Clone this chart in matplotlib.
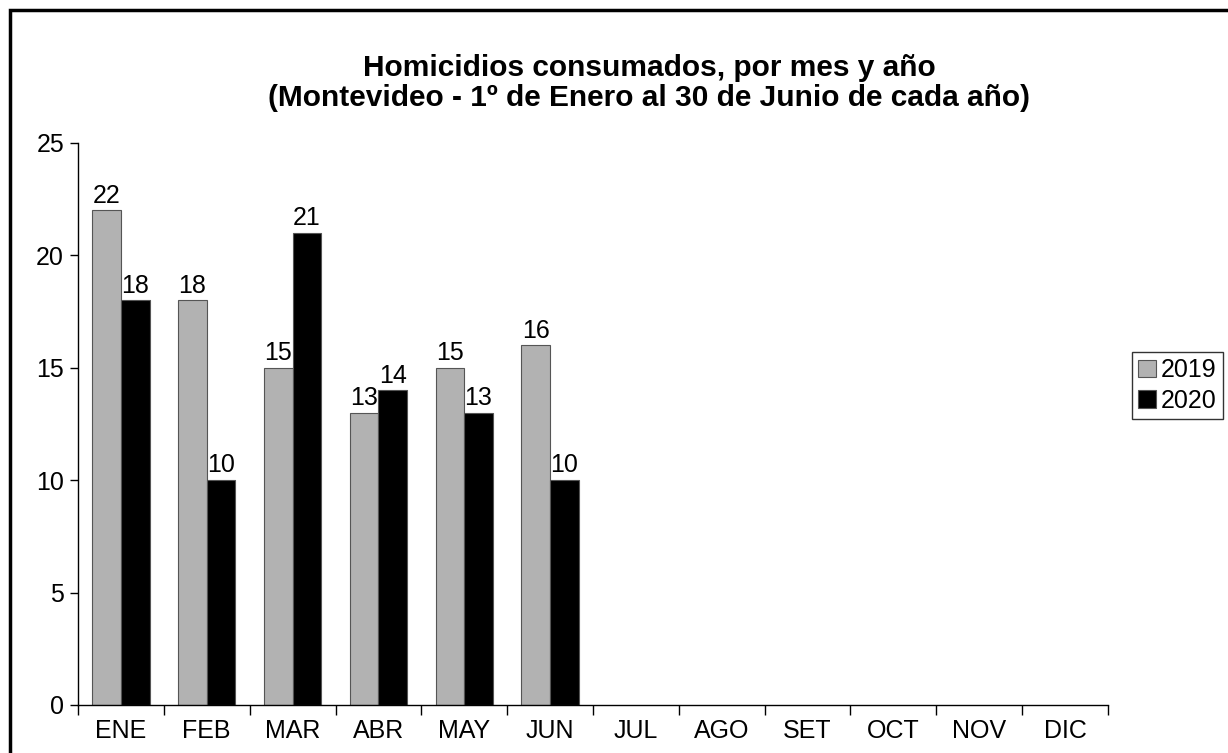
import numpy as np
import matplotlib
matplotlib.use("Agg")
import matplotlib.pyplot as plt
from matplotlib.patches import Rectangle

plt.rcParams['font.family'] = ['Liberation Sans', 'DejaVu Sans']

# data
months = ["ENE", "FEB", "MAR", "ABR", "MAY", "JUN",
          "JUL", "AGO", "SET", "OCT", "NOV", "DIC"]
values_2019 = [22, 18, 15, 13, 15, 16]
values_2020 = [18, 10, 21, 14, 13, 10]
y_ticks = [0, 5, 10, 15, 20, 25]

fig = plt.figure(figsize=(12.28, 7.53), dpi=100)
ax = fig.add_axes([78 / 1228, 1 - 705 / 753, 1030 / 1228, (705 - 143) / 753])

# outer frame (runs off the right and bottom edge)
fig.patches.append(Rectangle((10 / 1228, -0.1), 1.2, 1.1 - 10 / 753,
                             transform=fig.transFigure, fill=False,
                             ec='black', lw=2.5, clip_on=False))

w = 1 / 3
x19 = np.arange(len(values_2019)) - w / 2
x20 = np.arange(len(values_2020)) + w / 2
b1 = ax.bar(x19, values_2019, width=w, color='#b2b2b2', edgecolor='#555555',
            linewidth=0.8, label='2019')
b2 = ax.bar(x20, values_2020, width=w, color='black', edgecolor='#555555',
            linewidth=0.8, label='2020')

for bars in (b1, b2):
    ax.bar_label(bars, padding=2, fontsize=18)

ax.set_xlim(-0.5, len(months) - 0.5)
ax.set_ylim(0, 25)
ax.set_yticks(y_ticks)
ax.tick_params(axis='y', labelsize=18, length=6, width=1, pad=4)

ax.set_xticks(np.arange(len(months)))
ax.set_xticklabels(months, fontsize=18)
ax.set_xticks(np.arange(len(months) + 1) - 0.5, minor=True)
ax.tick_params(axis='x', which='major', length=0, pad=10)
ax.tick_params(axis='x', which='minor', length=7, width=1)

ax.spines['top'].set_visible(False)
ax.spines['right'].set_visible(False)
ax.spines['left'].set_linewidth(1)
ax.spines['bottom'].set_linewidth(1)

fig.text(649 / 1228, 1 - 83 / 753,
         "Homicidios consumados, por mes y año\n"
         "(Montevideo - 1º de Enero al 30 de Junio de cada año)",
         ha='center', va='center', fontsize=21.5, fontweight='bold',
         linespacing=1.1)

leg = fig.legend(handles=[b1, b2], loc='upper left',
                 bbox_to_anchor=(1132 / 1228, 1 - 352 / 753),
                 fontsize=18, frameon=True, fancybox=False,
                 handlelength=0.7, handleheight=0.7, handletextpad=0.2,
                 borderpad=0.25, labelspacing=0.25, borderaxespad=0)
leg.get_frame().set_edgecolor('black')
leg.get_frame().set_linewidth(1)

fig.savefig("out.png", dpi=100)
